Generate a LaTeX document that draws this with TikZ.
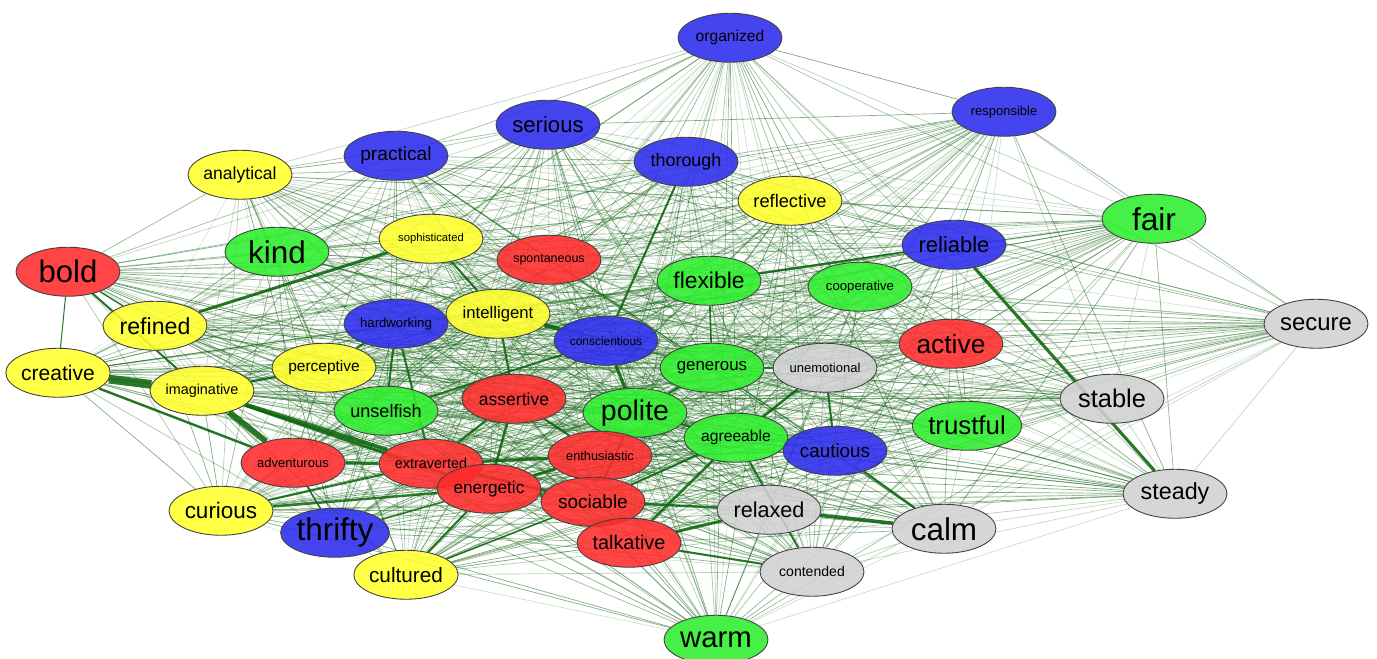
\documentclass[tikz,border=0pt]{standalone}
\usepackage{fontspec}
\setmainfont{Liberation Sans}
\usetikzlibrary{shapes.geometric}
\pgfdeclarelayer{bg}
\pgfsetlayers{bg,main}
\definecolor{edgegreen}{HTML}{1C6A1C}
\definecolor{thickgreen}{HTML}{0A640A}
\definecolor{nred}{HTML}{FF2B2B}
\definecolor{ngreen}{HTML}{2CEE2C}
\definecolor{nblue}{HTML}{2B2BEE}
\definecolor{nyellow}{HTML}{FFFF2B}
\definecolor{ngray}{HTML}{D0D0D0}
\tikzset{
  trait/.style={ellipse, draw=black!75, line width=0.5pt, fill opacity=0.88, text opacity=1,
    minimum width=2.08cm, minimum height=0.98cm, inner sep=0pt, yshift=-1pt},
  redn/.style={trait, fill=nred},
  greenn/.style={trait, fill=ngreen},
  bluen/.style={trait, fill=nblue},
  yellown/.style={trait, fill=nyellow},
  grayn/.style={trait, fill=ngray},
  fs/.style={font=\fontsize{#1pt}{#1pt}\selectfont},
  tie/.style={draw=thickgreen, line width=#1pt, draw opacity=0.85},
  thin/.style={draw=edgegreen, line width=0.4pt},
}
\begin{document}
\begin{tikzpicture}[x=0.02cm, y=-0.02cm]
\useasboundingbox (0,0) rectangle (1377,659);
% nodes
\node[bluen, fs=8.9] (organized) at (730,36) {organized};
\node[bluen, fs=7.4] (responsible) at (1004,110) {responsible};
\node[bluen, fs=12.6] (serious) at (548,123) {serious};
\node[bluen, fs=10.9] (practical) at (396,154) {practical};
\node[bluen, fs=10.2] (thorough) at (686,160) {thorough};
\node[yellown, fs=10] (analytical) at (240,173) {analytical};
\node[yellown, fs=10.4] (reflective) at (790,199) {reflective};
\node[greenn, fs=18] (fair) at (1154,217) {fair};
\node[greenn, fs=17.9] (kind) at (277,250) {kind};
\node[yellown, fs=6.4] (sophisticated) at (431,237) {sophisticated};
\node[redn, fs=7.1] (spontaneous) at (549,258) {spontaneous};
\node[bluen, fs=12.5] (reliable) at (954,243) {reliable};
\node[redn, fs=17.7] (bold) at (68,270) {bold};
\node[greenn, fs=13] (flexible) at (709,279) {flexible};
\node[greenn, fs=7.5] (cooperative) at (860,285) {cooperative};
\node[yellown, fs=13.2] (refined) at (155,324) {refined};
\node[bluen, fs=7.5] (hardworking) at (396,322) {hardworking};
\node[yellown, fs=9.5] (intelligent) at (498,312) {intelligent};
\node[grayn, fs=13.6] (secure) at (1316,322) {secure};
\node[bluen, fs=6.8] (conscientious) at (606,339) {conscientious};
\node[redn, fs=15] (active) at (951,342) {active};
\node[yellown, fs=12] (creative) at (58,371) {creative};
\node[yellown, fs=8.8] (perceptive) at (324,366) {perceptive};
\node[yellown, fs=8.2] (imaginative) at (202,389) {imaginative};
\node[greenn, fs=9.6] (generous) at (712,366) {generous};
\node[grayn, fs=7.4] (unemotional) at (825,366) {unemotional};
\node[greenn, fs=10.3] (unselfish) at (386,409) {unselfish};
\node[redn, fs=10] (assertive) at (514,397) {assertive};
\node[greenn, fs=16.2] (polite) at (635,411) {polite};
\node[grayn, fs=14.5] (stable) at (1112,397) {stable};
\node[greenn, fs=14.7] (trustful) at (967,424) {trustful};
\node[greenn, fs=8.9] (agreeable) at (736,436) {agreeable};
\node[bluen, fs=10.7] (cautious) at (835,449) {cautious};
\node[redn, fs=7.4] (adventurous) at (293,461) {adventurous};
\node[redn, fs=8.2] (extraverted) at (431,462) {extraverted};
\node[redn, fs=7.3] (enthusiastic) at (600,454) {enthusiastic};
\node[redn, fs=9.8] (energetic) at (489,487) {energetic};
\node[grayn, fs=13.3] (steady) at (1175,492) {steady};
\node[redn, fs=10.8] (sociable) at (593,500) {sociable};
\node[grayn, fs=12.3] (relaxed) at (769,508) {relaxed};
\node[grayn, fs=17.9] (calm) at (944,527) {calm};
\node[yellown, fs=12.8] (curious) at (221,509) {curious};
\node[bluen, fs=17.9] (thrifty) at (335,531) {thrifty};
\node[redn, fs=11.3] (talkative) at (629,541) {talkative};
\node[yellown, fs=11.8] (cultured) at (406,573) {cultured};
\node[grayn, fs=8] (contended) at (812,570) {contended};
\node[greenn, fs=16.7] (warm) at (716,638) {warm};
% edges
\def\names{organized,responsible,serious,practical,thorough,analytical,reflective,fair,kind,sophisticated,spontaneous,reliable,bold,flexible,cooperative,refined,hardworking,intelligent,secure,conscientious,active,creative,perceptive,imaginative,generous,unemotional,unselfish,assertive,polite,stable,trustful,agreeable,cautious,adventurous,extraverted,enthusiastic,energetic,steady,sociable,relaxed,calm,curious,thrifty,talkative,cultured,contended,warm}
\pgfmathsetseed{11}
\begin{pgfonlayer}{bg}
\foreach \a [count=\i] in \names {
  \foreach \b [count=\j] in \names {
    \ifnum\j>\i
      \pgfmathsetmacro\r{rnd}
      \ifdim\r pt>0.12pt
        \pgfmathsetmacro\op{0.14+0.46*rnd}
        \draw[thin, draw opacity=\op] (\a) -- (\b);
      \fi
    \fi
  }
}
\foreach \a/\b/\w in {
  creative/imaginative/5, imaginative/adventurous/3.4, imaginative/extraverted/2.3,
  imaginative/energetic/1.6, creative/adventurous/1.4, bold/imaginative/1.1,
  refined/sophisticated/1.7, sophisticated/intelligent/1.2, intelligent/conscientious/2.3,
  hardworking/intelligent/1.7, hardworking/perceptive/1.2, conscientious/polite/1.8,
  thorough/conscientious/1.2, reliable/steady/1.8, calm/relaxed/2,
  calm/cautious/1.2, relaxed/talkative/1.7, talkative/contended/1.2,
  sociable/relaxed/1.4, agreeable/talkative/1.5, agreeable/contended/1.2,
  unemotional/agreeable/1.5, unemotional/cautious/1.2, sociable/talkative/2.3,
  energetic/sociable/2.8, extraverted/energetic/2.3, extraverted/sociable/1.7,
  enthusiastic/sociable/1.7, assertive/energetic/1.4, adventurous/extraverted/1.7,
  curious/energetic/1.4, cultured/energetic/1.2, assertive/extraverted/1.2,
  intelligent/assertive/1.2, polite/agreeable/1.2, polite/generous/1.2,
  enthusiastic/extraverted/1.7, enthusiastic/energetic/1.7, imaginative/perceptive/1.2,
  hardworking/extraverted/1.2, hardworking/unselfish/1.1, conscientious/unselfish/1.1,
  assertive/enthusiastic/1.2, polite/enthusiastic/1.2, flexible/generous/0.9,
  flexible/reliable/0.9, generous/unemotional/1, adventurous/thrifty/0.9,
  bold/refined/0.8, bold/creative/0.6, curious/extraverted/1.1, thrifty/energetic/0.9,
  cultured/sociable/0.9, agreeable/sociable/1.2, polite/sociable/1.2}
  \draw[tie=\w] (\a) -- (\b);
\end{pgfonlayer}
\end{tikzpicture}
\end{document}
